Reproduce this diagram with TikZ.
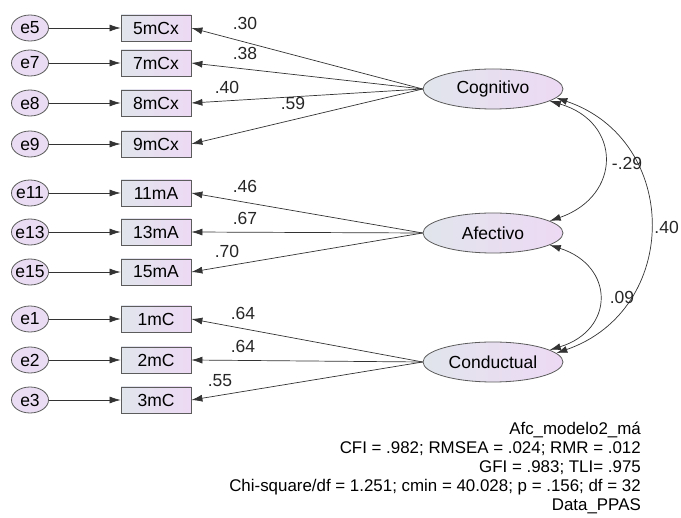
\documentclass[tikz,border=0pt]{standalone}
\usepackage{fontspec}
\setmainfont{Liberation Sans}
\usetikzlibrary{positioning,arrows.meta,shapes.geometric}
\definecolor{edgegray}{HTML}{5C5C5C}
\definecolor{lineink}{HTML}{333333}
\definecolor{shadeL}{HTML}{E1E5EC}
\definecolor{shadeR}{HTML}{EDD9F4}
\definecolor{errfill}{HTML}{EADDF3}
\tikzset{
  latent/.style = {ellipse, draw=edgegray, left color=shadeL, right color=shadeR, line width=0.8pt,
                   minimum width=140pt, minimum height=40pt, inner sep=0pt},
  item/.style   = {rectangle, draw=edgegray, left color=shadeL, right color=shadeR, line width=0.8pt,
                   minimum width=70pt, minimum height=26pt, inner sep=0pt},
  resid/.style  = {ellipse, draw=edgegray, fill=errfill, line width=0.8pt,
                   minimum width=37pt, minimum height=26pt, inner xsep=-1.5pt, inner ysep=0pt},
  regr/.style   = {-{Latex[length=11pt,width=7pt]}, line width=0.7pt, draw=lineink},
  cov/.style    = {{Latex[length=11pt,width=7pt]}-{Latex[length=11pt,width=7pt]}, line width=0.7pt, draw=lineink},
  coef/.style   = {inner sep=1pt, text=black!85},
}

\begin{document}
\begin{tikzpicture}[x=1pt, y=-1pt, font=\fontsize{17.5}{19}\selectfont]
  \useasboundingbox[fill=white] (0,0) rectangle (681,518);

  %% ---- the three factors ------------------------------------------------------------------
  \node[latent] (cog) at (493,89)  {Cognitivo};
  \node[latent] (afe) at (493,233) {Afectivo};
  \node[latent] (con) at (493,362) {Conductual};

  %% ---- residuals, items and loadings -------------------------------------------------------
  \foreach \n/\lbl/\y/\f/\v/\lx/\ly in {
      5/5mCx/28/cog/.30/245/23,     7/7mCx/63/cog/.38/245/53,
      8/8mCx/103/cog/.40/227/87,    9/9mCx/144/cog/.59/293/103,
      11/11mA/193/afe/.46/245/186,  13/13mA/232/afe/.67/245/218,
      15/15mA/272/afe/.70/227/251,
      1/1mC/319/con/.64/243/313,    2/2mC/360/con/.64/243/346,
      3/3mC/400/con/.55/220/381} {
    \node[resid] (e\n) at (30,\y) {e\n};
    \node[item]  (m\n) at (156,\y) {\lbl};
    \draw[regr] (e\n) -- (m\n);
    \draw[regr] (\f.west) -- (m\n.east);
    \node[coef] (c\n) at (\lx,\ly) {\v};
  }

  %% ---- factor covariances ------------------------------------------------------------------
  \draw[cov] (cog.-12) .. controls (622,122) and (622,196) .. (afe.12);
  \draw[cov] (afe.-12) .. controls (615,266) and (615,330) .. (con.12);
  \draw[cov] (cog.-8)  .. controls (681,140) and (681,310) .. (con.8);
  \node[coef] (r1) at (627,163) {-.29};
  \node[coef] (r2) at (622,297) {.09};
  \node[coef, anchor=east] (r3) at (680,227) {.40};

  % fit summary
  \node[anchor=east, align=right, inner sep=0pt, font=\fontsize{16.9}{19}\selectfont] (fit) at (641,468)
    {Afc\_modelo2\_má\\
     CFI = .982; RMSEA = .024; RMR = .012\\
     GFI = .983; TLI= .975\\
     Chi-square/df = 1.251; cmin = 40.028; p = .156; df = 32\\
     Data\_PPAS};
\end{tikzpicture}
\end{document}
